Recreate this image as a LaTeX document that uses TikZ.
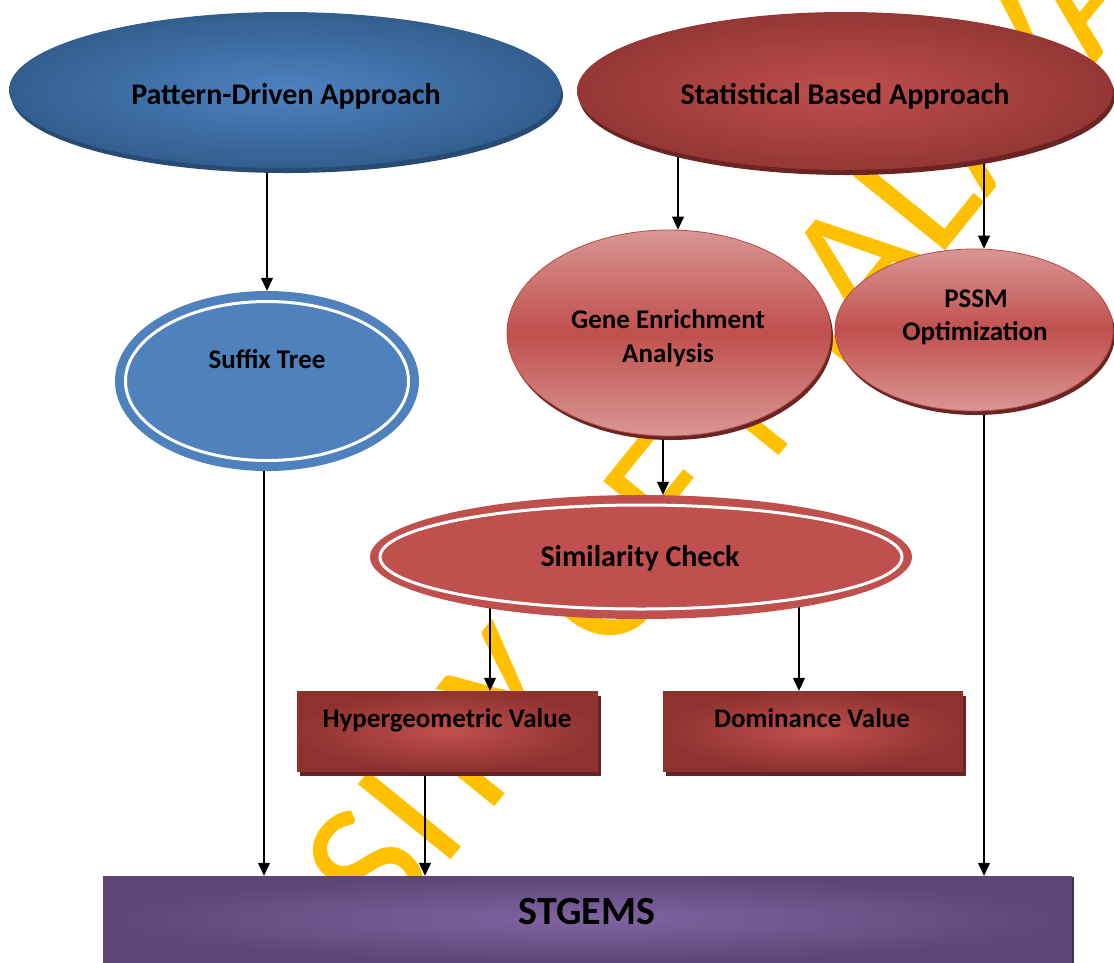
\documentclass[tikz,border=0pt]{standalone}
\usepackage{fontspec}
\setmainfont{Carlito}
\usetikzlibrary{shapes.geometric,arrows.meta,shadows}

\definecolor{pdIn}{HTML}{4D82C0}
\definecolor{pdOut}{HTML}{335E8F}
\definecolor{pdEdge}{HTML}{284B74}
\definecolor{sbIn}{HTML}{BD4F4C}
\definecolor{sbOut}{HTML}{953735}
\definecolor{redEdge}{HTML}{6A2422}
\definecolor{pinkLight}{HTML}{D99694}
\definecolor{redMid}{HTML}{C0504D}
\definecolor{redLine}{HTML}{B64A47}
\definecolor{ringBlue}{HTML}{4F81BD}
\definecolor{boxIn}{HTML}{C0504D}
\definecolor{boxOut}{HTML}{8E3230}
\definecolor{boxEdge}{HTML}{632523}
\definecolor{violetIn}{HTML}{8064A2}
\definecolor{violetOut}{HTML}{5C4776}
\definecolor{violetEdge}{HTML}{3F3151}
\definecolor{stamp}{HTML}{FFC000}

\pgfdeclarelayer{stamplayer}
\pgfdeclarelayer{links}
\pgfsetlayers{stamplayer,links,main}

\tikzset{
  ovalbase/.style={ellipse, inner sep=0pt, draw=none},
  approach/.style={ovalbase, shading=radial},
  method/.style={ovalbase, top color=pinkLight, bottom color=pinkLight,
    middle color=redMid, draw=redLine, line width=0.8pt,
    general shadow={fill=redEdge, shadow xshift=2pt, shadow yshift=-4pt}},
  ringoval/.style={ovalbase},
  valuebox/.style={rectangle, inner sep=0pt, shading=radial,
    inner color=boxIn, outer color=boxOut,
    general shadow={fill=boxEdge, shadow xshift=3pt, shadow yshift=-5pt}},
  lbl/.style={inner sep=0pt, anchor=base, font=\bfseries\fontsize{27}{33}\selectfont},
  biglbl/.style={lbl, font=\bfseries\fontsize{30}{36}\selectfont},
  arr/.style={line width=1.2pt, -{Triangle[length=13pt,width=12pt]}},
}

\begin{document}
\begin{tikzpicture}[x=1pt,y=-1pt]
\useasboundingbox (0,0) rectangle (1114,962);

% ---------- top level approaches ----------
\node[approach, minimum width=552pt, minimum height=156pt,
      inner color=pdIn, outer color=pdOut,
      general shadow={fill=pdEdge, shadow xshift=2pt, shadow yshift=-5pt}]
      (pattern) at (285,90) {};
\node[approach, minimum width=536pt, minimum height=158pt,
      inner color=sbIn, outer color=sbOut,
      general shadow={fill=redEdge, shadow xshift=2pt, shadow yshift=-5pt}]
      (stat) at (845,91) {};

% ---------- second level ----------
\node[ringoval, fill=ringBlue, minimum width=304pt, minimum height=180pt]
      (suffix) at (267,381) {};
\draw[white, line width=3pt] (suffix.center) ellipse (141.5pt and 79.5pt);

\node[method, minimum width=324pt, minimum height=206pt] (gene) at (669,333) {};
\node[method, minimum width=278pt, minimum height=162pt] (pssm) at (974,330) {};

% ---------- similarity check ----------
\node[ringoval, fill=redMid, minimum width=542pt, minimum height=124pt]
      (sim) at (641,557) {};
\draw[white, line width=3pt] (sim.center) ellipse (261pt and 52pt);

% ---------- values ----------
\node[valuebox, minimum width=301pt, minimum height=80pt] (hyper) at (447.5,731) {};
\node[valuebox, minimum width=300pt, minimum height=80pt] (dom) at (813,731) {};

% ---------- result ----------
\node[rectangle, inner sep=0pt, minimum width=969pt, minimum height=86pt,
      shading=radial, inner color=violetIn, outer color=violetOut,
      general shadow={fill=violetEdge, shadow xshift=2pt, shadow yshift=-1pt}]
      (stgems) at (587.5,919) {};

% ---------- labels ----------
\node[biglbl] (patternTxt) at (286,104) {Pattern-Driven Approach};
\node[biglbl] (statTxt) at (845,104) {Statistical Based Approach};
\node[lbl] (suffixTxt) at (267,368) {Suffix Tree};
\node[lbl] (geneTxtA) at (668,328) {Gene Enrichment};
\node[lbl] (geneTxtB) at (668,362) {Analysis};
\node[lbl] (pssmTxtA) at (976,307) {PSSM};
\node[lbl] (pssmTxtB) at (975,340) {Optimization};
\node[lbl, font=\bfseries\fontsize{30}{36}\selectfont] (simTxt) at (640,566) {Similarity Check};
\node[lbl] (hyperTxt) at (447,727) {Hypergeometric Value};
\node[lbl] (domTxt) at (812,727) {Dominance Value};
\node[lbl, font=\bfseries\fontsize{40}{48}\selectfont] (stgemsTxt) at (587,924) {STGEMS};

% ---------- connector columns ----------
\coordinate (cA) at (264,0);
\coordinate (cB) at (267,0);
\coordinate (cC) at (425,0);
\coordinate (cD) at (490,0);
\coordinate (cE) at (663,0);
\coordinate (cF) at (678,0);
\coordinate (cG) at (799,0);
\coordinate (cH) at (984,0);

\begin{pgfonlayer}{links}
  \draw[arr] (pattern.center -| cB) -- (suffix.north -| cB);
  \draw[arr] (stat.center -| cF) -- (gene.north -| cF);
  \draw[arr] (stat.center -| cH) -- (pssm.north -| cH);
  \draw[arr] (gene.center -| cE) -- (sim.north -| cE);
  \draw[arr] (sim.center -| cD) -- (hyper.north -| cD);
  \draw[arr] (sim.center -| cG) -- (dom.north -| cG);
  \draw[arr] (suffix.center -| cA) -- (stgems.north -| cA);
  \draw[arr] (hyper.center -| cC) -- (stgems.north -| cC);
  \draw[arr] (pssm.center -| cH) -- (stgems.north -| cH);
\end{pgfonlayer}

% ---------- diagonal stamp ----------
\begin{pgfonlayer}{stamplayer}
  \node[inner sep=0pt, anchor=base west, rotate=51, text=stamp,
        font=\fontsize{186}{186}\selectfont] (stampTxt) at (22,1390)
        {UNIVERSITY OF MALAYA};
\end{pgfonlayer}
\end{tikzpicture}
\end{document}
